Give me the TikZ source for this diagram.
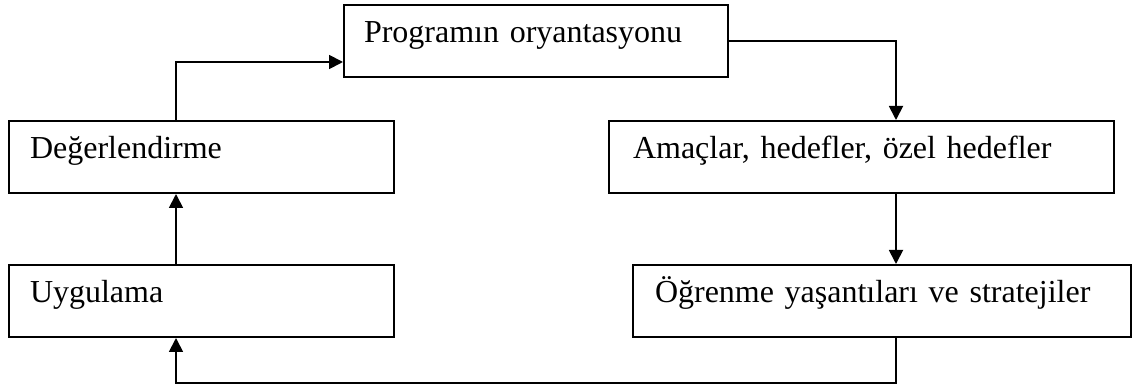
\documentclass[tikz,border=0pt]{standalone}
\usepackage{fontspec}
\setmainfont{Liberation Serif}
\usetikzlibrary{arrows.meta}
\begin{document}
\begin{tikzpicture}[x=1pt,y=-1pt,
  box/.style={draw, line width=2pt, anchor=north west, minimum height=72pt,
    inner ysep=0pt, align=left, text height=0.62em, text depth=0.3em,
    font=\fontsize{32pt}{38pt}\selectfont},
  arr/.style={line width=1.8pt, -{Triangle[length=14pt,width=14pt]}}]
\useasboundingbox (0,0) rectangle (1133,387);
\node[box, inner xsep=20pt, text width=344pt] (prog) at (343,4) {Programın oryantasyonu};
\node[box, inner xsep=21pt, text width=343pt] (deg) at (8,120) {Değerlendirme};
\node[box, inner xsep=24pt, text width=457pt] (amac) at (608,120) {Amaçlar, hedefler, özel hedefler};
\node[box, inner xsep=21pt, text width=343pt] (uyg) at (8,264) {Uygulama};
\node[box, inner xsep=22pt, text width=454pt] (ogr) at (632,264) {Öğrenme yaşantıları ve stratejiler};
\coordinate (c1) at (176,62);
\coordinate (c2) at (896,0);
\coordinate (c3) at (176,383);
\draw[arr] (deg.north -| c1) |- (prog.west |- c1);
\draw[arr] (prog.east) -| (amac.north -| c2);
\draw[arr] (amac.south -| c2) -- (ogr.north -| c2);
\draw[arr] (ogr.south -| c2) |- (c3) -- (uyg.south -| c3);
\draw[arr] (uyg.north -| c1) -- (deg.south -| c1);
\end{tikzpicture}
\end{document}
